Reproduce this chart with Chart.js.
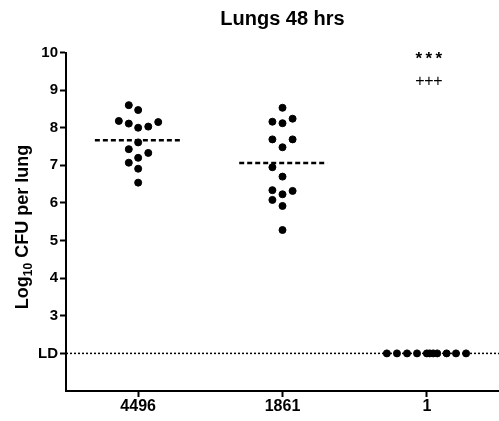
<!DOCTYPE html>
<html>
<head>
<meta charset="utf-8">
<script src="https://cdn.jsdelivr.net/npm/chart.js@4"></script>
<style>
  body { margin: 0; background: #fff; }
  canvas { display: block; }
</style>
</head>
<body>
<canvas id="chart" width="499" height="421"></canvas>
<script>
const FONT = "'Liberation Sans', Arial, sans-serif";

// groups on the x axis
const groups = ['4496', '1861', '1'];

// log10 CFU per lung
const values4496 = [8.60, 8.47, 8.18, 8.11, 8.00, 8.03, 8.15, 7.61, 7.43, 7.33, 7.20, 7.07, 6.91, 6.54];
const jitter4496 = [-0.065, 0, -0.134, -0.065, 0, 0.07, 0.139, 0, -0.065, 0.07, 0, -0.065, 0, 0];

const values1861 = [8.53, 8.16, 8.12, 8.24, 7.69, 7.69, 7.48, 6.95, 6.70, 6.34, 6.23, 6.32, 6.08, 5.92, 5.28];
const jitter1861 = [0, -0.07, 0, 0.07, -0.07, 0.07, 0, -0.07, 0, -0.07, 0, 0.07, -0.07, 0, 0];

const values1 = [2, 2, 2, 2, 2, 2, 2, 2, 2, 2, 2];
const jitter1 = [-0.277, -0.207, -0.137, -0.068, 0, 0.02, 0.044, 0.072, 0.137, 0.202, 0.272];

const medians = [7.67, 7.06];
const LD = 2;
const yTicks = [2, 3, 4, 5, 6, 7, 8, 9, 10];
const marks = ['***', '+++'];
const markValues = [9.9, 9.22];

function points(values, jitter, pos) {
  return values.map((v, i) => ({ x: pos + jitter[i], y: v }));
}

function medianLine(m, pos) {
  return {
    type: 'line',
    data: [{ x: pos - 0.3, y: m }, { x: pos + 0.31, y: m }],
    borderColor: '#000',
    borderWidth: 2.5,
    borderDash: [5, 3],
    pointRadius: 0,
    showLine: true,
  };
}

const dotStyle = {
  type: 'scatter',
  backgroundColor: '#000',
  borderColor: '#000',
  pointRadius: 3.5,
  pointHoverRadius: 3.5,
};

const extras = {
  id: 'extras',
  afterDatasetsDraw(chart) {
    const { ctx, scales } = chart;
    ctx.save();
    ctx.fillStyle = '#000';
    // significance marks above group "1"
    ctx.textAlign = 'center';
    ctx.textBaseline = 'middle';
    marks.forEach((m, i) => {
      const cx = scales.x.getPixelForValue(3) + 2;
      const cy = scales.y.getPixelForValue(markValues[i]);
      const star = m[0] === '*';
      ctx.font = (star ? 'bold 17px ' : '16px ') + FONT;
      [...m].forEach((c, k) => ctx.fillText(c, cx + (k - 1) * (star ? 10 : 9), cy + (star ? 3 : 0)));
    });
    // y axis title with subscript
    ctx.translate(22, 227);
    ctx.rotate(-Math.PI / 2);
    const big = 'bold 18px ' + FONT;
    const small = 'bold 12px ' + FONT;
    ctx.font = big;
    const w1 = ctx.measureText('Log').width;
    const w3 = ctx.measureText(' CFU per lung').width;
    ctx.font = small;
    const w2 = ctx.measureText('10').width;
    let x = -(w1 + w2 + w3) / 2;
    ctx.textAlign = 'left';
    ctx.textBaseline = 'alphabetic';
    ctx.font = big;
    ctx.fillText('Log', x, 6);
    x += w1;
    ctx.font = small;
    ctx.fillText('10', x, 10);
    x += w2;
    ctx.font = big;
    ctx.fillText(' CFU per lung', x, 6);
    ctx.restore();
  }
};

new Chart(document.getElementById('chart'), {
  data: {
    datasets: [
      {
        type: 'line',
        data: [{ x: 0.5, y: LD }, { x: 3.5, y: LD }],
        borderColor: '#000',
        borderWidth: 1.5,
        borderDash: [2, 2],
        pointRadius: 0,
      },
      { ...dotStyle, data: points(values4496, jitter4496, 1) },
      { ...dotStyle, data: points(values1861, jitter1861, 2) },
      { ...dotStyle, data: points(values1, jitter1, 3) },
      medianLine(medians[0], 1),
      medianLine(medians[1], 2),
    ],
  },
  options: {
    responsive: false,
    animation: false,
    layout: { padding: 0, autoPadding: false },
    plugins: {
      legend: { display: false },
      tooltip: { enabled: false },
      title: {
        display: true,
        text: 'Lungs 48 hrs',
        fullSize: false,
        color: '#000',
        font: { family: FONT, size: 20, weight: 'bold' },
        padding: { top: 7, bottom: 21.5 },
      },
    },
    scales: {
      x: {
        type: 'linear',
        min: 0.5,
        max: 3.5,
        afterBuildTicks: s => { s.ticks = groups.map((g, i) => ({ value: i + 1 })); },
        afterFit: s => {
          s.height = 30;
          s.paddingLeft = 0;
          s.paddingRight = 0;
        },
        ticks: {
          callback: (v) => groups[v - 1],
          color: '#000',
          font: { family: FONT, size: 16, weight: 'bold' },
          padding: 0,
          maxRotation: 0,
        },
        grid: { drawOnChartArea: false, tickLength: 6, tickWidth: 2, color: '#000' },
        border: { color: '#000', width: 2 },
      },
      y: {
        min: 1,
        max: 10,
        afterBuildTicks: s => { s.ticks = yTicks.map(v => ({ value: v })); },
        afterFit: s => { s.width = 66; },
        ticks: {
          callback: v => (v === LD ? 'LD' : v),
          color: '#000',
          font: { family: FONT, size: 15, weight: 'bold' },
          padding: 2,
        },
        grid: { drawOnChartArea: false, tickLength: 6, tickWidth: 2, color: '#000' },
        border: { color: '#000', width: 2 },
      },
    },
  },
  plugins: [extras],
});
</script>
</body>
</html>
